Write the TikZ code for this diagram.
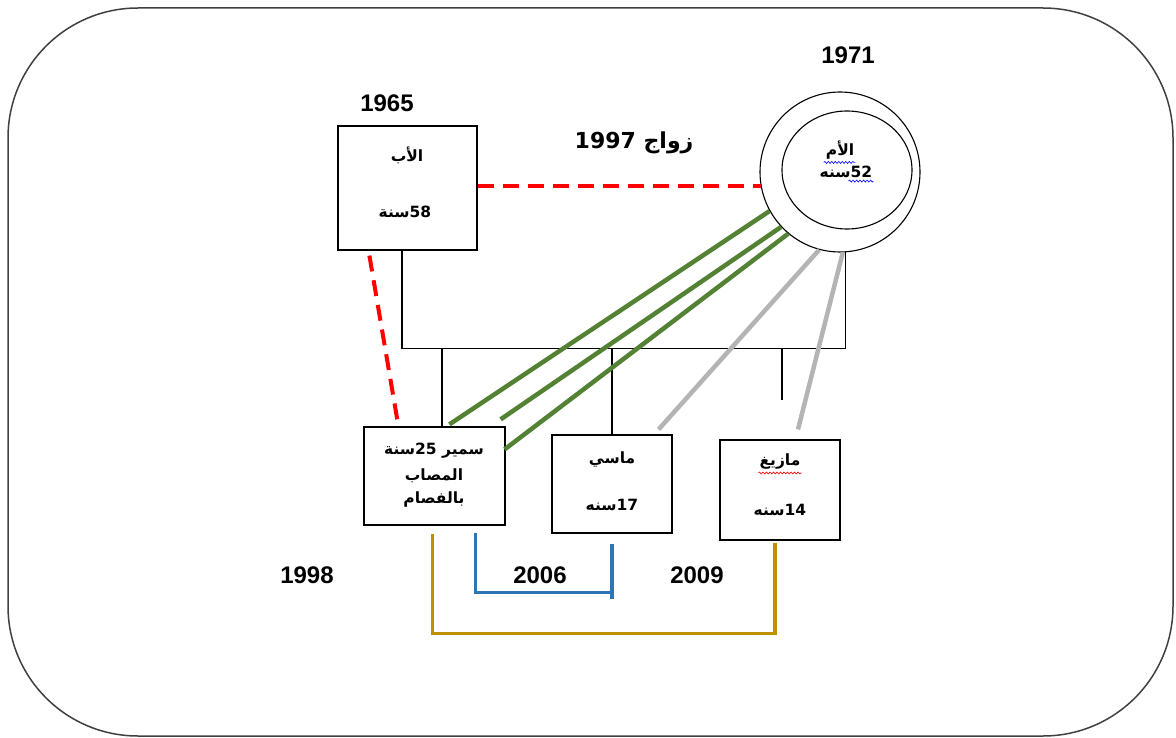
\documentclass[tikz,border=0pt]{standalone}
\usepackage{fontspec}
\setmainfont{Liberation Sans}
\newfontfamily\arabicfont[Script=Arabic]{DejaVu Sans}
\TeXXeTstate=1
\usetikzlibrary{calc,shapes.geometric,decorations.pathmorphing}
\definecolor{rdash}{HTML}{FF0000}
\definecolor{grn}{HTML}{548235}
\definecolor{gry}{HTML}{B4B4B4}
\definecolor{goldc}{HTML}{BF9000}
\definecolor{bluc}{HTML}{2E75B6}
\definecolor{framec}{HTML}{404040}
\begin{document}
\begin{tikzpicture}[x=1pt,y=-1pt,
  person/.style={draw,line width=1.2pt,rectangle,inner sep=0pt},
  ar/.style={font=\arabicfont\bfseries\fontsize{15.5}{18}\selectfont,inner sep=0pt},
  yr/.style={font=\bfseries\fontsize{24}{28}\selectfont,inner sep=0pt},
  tree/.style={line width=1.1pt},
  reddash/.style={rdash,line width=4pt,dash pattern=on 16pt off 9pt},
  greenline/.style={grn,line width=4.5pt},
  grayline/.style={gry,line width=4.5pt},
  goldline/.style={goldc,line width=3.5pt},
  blueline/.style={bluc,line width=3.5pt},
  squig/.style={line width=0.6pt,decorate,decoration={snake,amplitude=1pt,segment length=3.5pt}}]
\useasboundingbox (0,0) rectangle (1176,738);
% outer frame
\draw[framec,line width=1.5pt,rounded corners=130pt] (8,8) rectangle (1173,736);

% people
\node[person,minimum width=139pt,minimum height=124pt] (father) at (407.5,188) {};
\node[circle,draw,line width=1.1pt,minimum size=160pt,inner sep=0pt] (mother) at (840,172) {};
\node[ellipse,draw,line width=1.1pt,minimum width=130pt,minimum height=118pt,inner sep=0pt] (motherin) at (847,170) {};
\node[person,minimum width=141pt,minimum height=98pt] (samir) at (434.5,476) {};
\node[person,minimum width=120pt,minimum height=98pt] (masi) at (612,484) {};
\node[person,minimum width=120pt,minimum height=100pt] (mazigh) at (780,490) {};

% labels in boxes
\node[ar] (fname) at (407,155) {\beginR الأب\endR};
\node[ar] (fage) at (405,212) {\beginR 58سنة\endR};
\node[ar] (mname) at (840,150) {\beginR الأم\endR};
\node[ar] (mage) at (846,172) {\beginR 52سنه\endR};
\node[ar] (s1) at (434,451) {\beginR سمير 25سنة\endR};
\node[ar] (s2) at (434,476) {\beginR المصاب\endR};
\node[ar] (s3) at (434,500) {\beginR بالفصام\endR};
\node[ar] (m1) at (612,460) {\beginR ماسي\endR};
\node[ar] (m2) at (612,505) {\beginR 17سنه\endR};
\node[ar] (z1) at (780,462) {\beginR مازيغ\endR};
\node[ar] (z2) at (780,510) {\beginR 14سنه\endR};

% spell-check squiggles
\draw[blue,squig] ($(mname.south west)+(-2,3)$) -- ($(mname.south east)+(1,3)$);
\draw[blue,squig] ($(mage.south east)+(-24,3)$) -- ($(mage.south east)+(1,3)$);
\draw[red,squig] ($(z1.south west)+(-1,3)$) -- ($(z1.south east)+(1,3)$);

% years
\node[yr] (y1965) at (387,103) {1965};
\node[yr] (y1971) at (848,55) {1971};
\node[yr] (y1998) at (307,575) {1998};
\node[yr] (y2006) at (540,575) {2006};
\node[yr] (y2009) at (697,575) {2009};
\node[font=\arabicfont\bfseries\fontsize{22}{26}\selectfont,inner sep=0pt] (marr) at (634,143) {\beginR زواج \beginL 1997\endL\endR};

% family tree lines
\coordinate (fbot) at ($(father.south)+(-5.5,0)$);
\coordinate (mbot) at (mother.274);
\coordinate (barL) at ($(fbot)+(0,98)$);
\coordinate (dropZ) at (782,400);
\draw[tree] (fbot) -- (barL) -| (mbot);
\draw[tree] ($(samir.north)+(7.5,0)$) -- (barL -| {$(samir.north)+(7.5,0)$});
\draw[tree] (masi.north) -- (barL -| masi.north);
\draw[tree] (dropZ) -- (barL -| dropZ);

% marriage and father-son links
\draw[reddash] (father.east |- mother.190) -- (mother.190);
\draw[reddash] ($(father.south west)+(32,5)$) -- ($(samir.north west)+(34,-6)$);

% mother-children links
\coordinate (g2end) at ($(samir.north east)+(-5,-7)$);
\coordinate (g3end) at ($(samir.north east)+(-1,23)$);
\coordinate (gr1end) at ($(masi.north east)+(-14,-5)$);
\coordinate (gr2end) at ($(mazigh.north)+(18,-10)$);
\draw[greenline] (mother.209) -- ($(samir.north west)+(86,-2)$);
\draw[greenline] (mother.223) -- (g2end);
\draw[greenline] (mother.230) -- (g3end);
\draw[grayline] (mother.255) -- (gr1end);
\draw[grayline] (mother.272) -- (gr2end);

% sibling links
\coordinate (gA) at ($(samir.south west)+(69,8)$);
\coordinate (gB) at ($(mazigh.south)+(-5,2)$);
\draw[goldline] (gA) -- ++(0,100) -| (gB);
\coordinate (bA) at ($(samir.south west)+(112,7)$);
\coordinate (bB) at ($(masi.south)+(0,10)$);
\draw[blueline] (bA) -- ++(0,60) -| (bB);
\draw[blueline] (bB) -- ++(0,55);
\end{tikzpicture}
\end{document}
